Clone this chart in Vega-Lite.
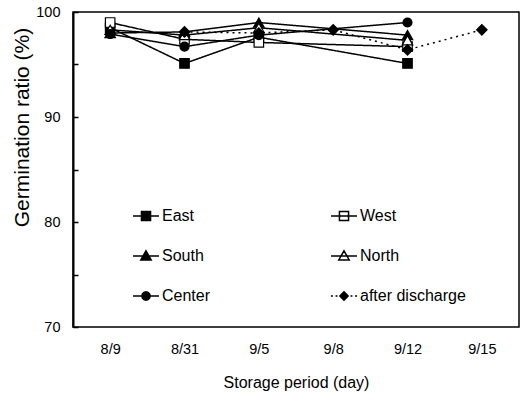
{
  "$schema": "https://vega.github.io/schema/vega-lite/v6.json",
  "autosize": "none",
  "width": 446,
  "height": 315,
  "padding": {"left": 73, "top": 12, "right": 10, "bottom": 72},
  "background": "white",
  "config": {
    "view": {"stroke": "black", "strokeWidth": 1.5},
    "font": "Liberation Sans"
  },
  "data": {
    "values": [
      {"date": "8/9", "series": "East", "value": 98.5},
      {"date": "8/31", "series": "East", "value": 95.1},
      {"date": "9/5", "series": "East", "value": 97.6},
      {"date": "9/12", "series": "East", "value": 95.1},
      {"date": "8/9", "series": "West", "value": 99.0},
      {"date": "8/31", "series": "West", "value": 97.4},
      {"date": "9/5", "series": "West", "value": 97.1},
      {"date": "9/12", "series": "West", "value": 96.7},
      {"date": "8/9", "series": "South", "value": 98.0},
      {"date": "8/31", "series": "South", "value": 98.1},
      {"date": "9/5", "series": "South", "value": 99.0},
      {"date": "9/12", "series": "South", "value": 97.8},
      {"date": "8/9", "series": "North", "value": 98.3},
      {"date": "8/31", "series": "North", "value": 97.8},
      {"date": "9/5", "series": "North", "value": 98.5},
      {"date": "9/12", "series": "North", "value": 97.3},
      {"date": "8/9", "series": "Center", "value": 97.9},
      {"date": "8/31", "series": "Center", "value": 96.7},
      {"date": "9/5", "series": "Center", "value": 97.8},
      {"date": "9/12", "series": "Center", "value": 99.0},
      {"date": "8/31", "series": "after discharge", "value": 98.1},
      {"date": "9/5", "series": "after discharge", "value": 98.0},
      {"date": "9/8", "series": "after discharge", "value": 98.3},
      {"date": "9/12", "series": "after discharge", "value": 96.4},
      {"date": "9/15", "series": "after discharge", "value": 98.3}
    ]
  },
  "encoding": {
    "x": {
      "field": "date", "type": "ordinal",
      "scale": {"type": "point", "padding": 0.5, "domain": ["8/9", "8/31", "9/5", "9/8", "9/12", "9/15"]},
      "axis": {"title": "Storage period (day)", "ticks": false, "domain": false, "labelAngle": 0, "labelFontSize": 14.5, "labelColor": "black", "labelPadding": 15, "titleFontSize": 16, "titleFontWeight": "normal", "titleColor": "black", "titlePadding": 19}
    },
    "y": {
      "field": "value", "type": "quantitative",
      "scale": {"domain": [70, 100], "nice": false, "zero": false},
      "axis": {"title": "Germination ratio (%)", "values": [70, 75, 80, 85, 90, 95, 100], "labelExpr": "datum.value % 10 == 0 ? datum.label : ''", "grid": false, "tickSize": -5, "tickColor": "black", "tickWidth": 1.5, "domainColor": "black", "domainWidth": 2, "labelFontSize": 14.5, "labelColor": "black", "labelPadding": 18, "titleFontSize": 21, "titleFontWeight": "normal", "titleColor": "black", "titlePadding": 3, "titleY": 115}
    }
  },
  "layer": [
    {
      "mark": {"type": "line", "color": "black", "strokeWidth": 1.5},
      "encoding": {
        "detail": {"field": "series"},
        "strokeDash": {
          "field": "series", "type": "nominal",
          "scale": {"domain": ["East", "West", "South", "North", "Center", "after discharge"], "range": [[1, 0], [1, 0], [1, 0], [1, 0], [1, 0], [2, 4]]},
          "legend": null
        }
      }
    },
    {
      "transform": [{"filter": "datum.series == 'East'"}],
      "mark": {"type": "point", "shape": "square", "size": 90, "filled": true, "fill": "black", "stroke": "black", "strokeWidth": 1.2, "opacity": 1}
    },
    {
      "transform": [{"filter": "datum.series == 'West'"}],
      "mark": {"type": "point", "shape": "square", "size": 90, "filled": true, "fill": "white", "stroke": "black", "strokeWidth": 1.2, "opacity": 1}
    },
    {
      "transform": [{"filter": "datum.series == 'South'"}],
      "mark": {"type": "point", "shape": "triangle-up", "size": 110, "filled": true, "fill": "black", "stroke": "black", "strokeWidth": 1.2, "opacity": 1}
    },
    {
      "transform": [{"filter": "datum.series == 'North'"}],
      "mark": {"type": "point", "shape": "triangle-up", "size": 110, "filled": true, "fill": "white", "stroke": "black", "strokeWidth": 1.2, "opacity": 1}
    },
    {
      "transform": [{"filter": "datum.series == 'Center'"}],
      "mark": {"type": "point", "shape": "circle", "size": 80, "filled": true, "fill": "black", "stroke": "black", "strokeWidth": 1.2, "opacity": 1}
    },
    {
      "transform": [{"filter": "datum.series == 'after discharge'"}],
      "mark": {"type": "point", "shape": "diamond", "size": 110, "filled": true, "fill": "black", "stroke": "black", "strokeWidth": 1.2, "opacity": 1}
    },
    {
      "mark": {"type": "point", "filled": true, "strokeWidth": 1.5, "opacity": 0},
      "encoding": {
        "shape": {
          "field": "series", "type": "nominal",
          "scale": {"domain": ["East", "South", "Center", "West", "North", "after discharge"], "range": [
            "M-1,0H1M-0.35,-0.35H0.35V0.35H-0.35Z",
            "M-1,0H1M0,-0.4L0.4,0.3H-0.4Z",
            "M-1,0H1M0.32,0L0.277,0.16L0.16,0.277L0,0.32L-0.16,0.277L-0.277,0.16L-0.32,0L-0.277,-0.16L-0.16,-0.277L0,-0.32L0.16,-0.277L0.277,-0.16Z",
            "M-1,0H1M-0.35,-0.35H0.35V0.35H-0.35Z",
            "M-1,0H1M0,-0.4L0.4,0.3H-0.4Z",
            "M-1,0H-0.85M-0.65,0H-0.5M0.5,0H0.65M0.85,0H1M-0.32,0L0,-0.32L0.32,0L0,0.32Z"
          ]},
          "legend": {"title": null, "orient": "none", "legendX": 59, "legendY": 190, "columns": 2, "columnPadding": 117, "rowPadding": 18, "symbolSize": 676, "symbolOpacity": 1, "symbolStrokeWidth": 1.5, "labelFontSize": 16, "labelColor": "black", "labelOffset": 2, "padding": 0, "gridAlign": "each"}
        },
        "fill": {
          "field": "series", "type": "nominal",
          "scale": {"domain": ["East", "South", "Center", "West", "North", "after discharge"], "range": ["black", "black", "black", "white", "white", "black"]}
        },
        "stroke": {
          "field": "series", "type": "nominal",
          "scale": {"domain": ["East", "South", "Center", "West", "North", "after discharge"], "range": ["black", "black", "black", "black", "black", "black"]}
        }
      }
    }
  ]
}
